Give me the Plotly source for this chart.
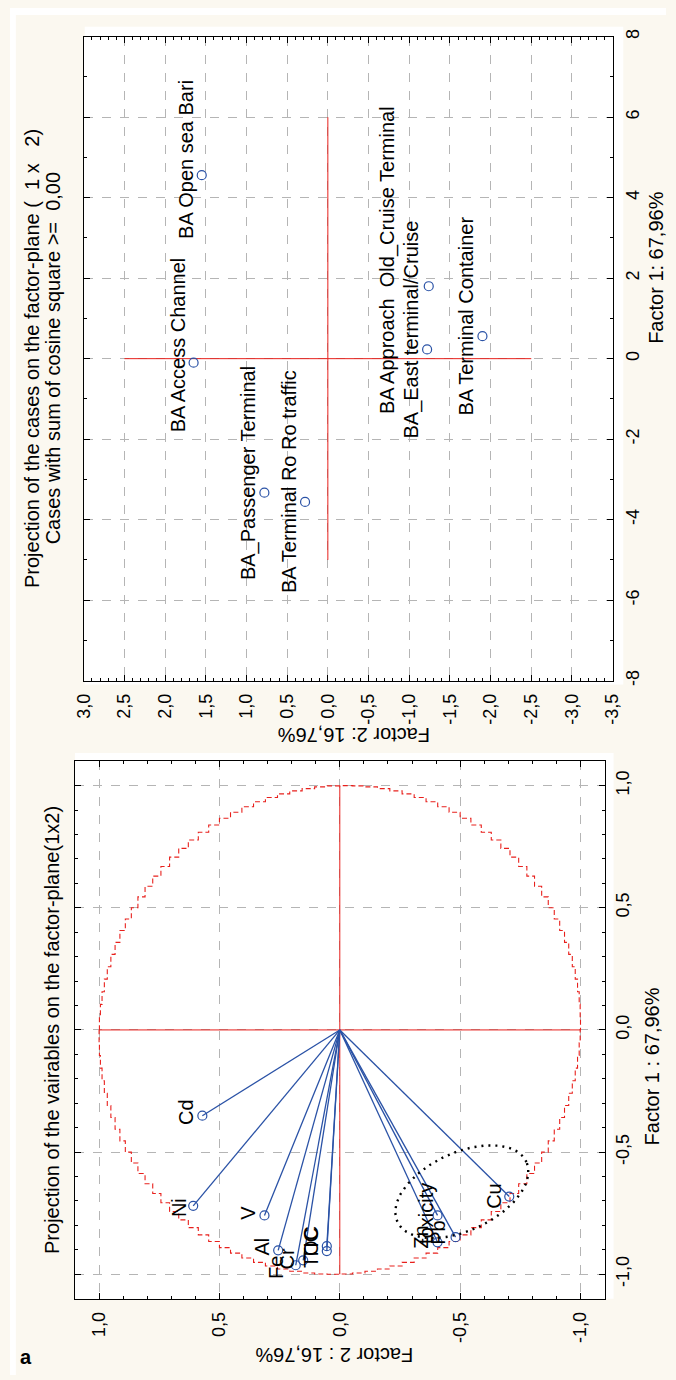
import numpy as np
import plotly.graph_objects as go

W, H = 676, 1380
FONT = "Liberation Sans, Arial, sans-serif"

# ---------------- data: cases (top panel) ----------------
case_names = ["BA Open sea Bari", "BA Access Channel", "BA_Passenger Terminal",
              "BA Terminal Ro Ro traffic", "BA Approach\u00a0 Old_Cruise Terminal",
              "BA_East terminal/Cruise", "BA Terminal Container"]
case_f1 = [4.56, -0.10, -3.33, -3.56, 1.80, 0.23, 0.56]
case_f2 = [1.55, 1.65, 0.78, 0.28, -1.24, -1.22, -1.90]
case_label_dx = [-16, -16, -16, -16, -42, -16, -16]
case_label_dy = [16, 18, 20, 20, 26, 20, 20]

# ---------------- data: variables (bottom panel) ----------------
var_names = ["Cd", "Ni", "V", "Al", "Fe", "Cr", "TIC", "TOC", "toxicity", "Zn", "Pb", "Cu"]
var_f1 = [-0.351, -0.720, -0.759, -0.902, -0.963, -0.943, -0.885, -0.905, -0.759, -0.869, -0.848, -0.682]
var_f2 = [0.571, 0.609, 0.313, 0.256, 0.183, 0.152, 0.054, 0.054, -0.406, -0.406, -0.481, -0.704]
var_label_dx = [-17, -14, -16, -16, -19, -16, -16, -16, -11, -16, -17, -16]
var_label_dy = [4, -2, 3, 4, -2, 1, 2, 4, 2, 5, 4, 1]

# ---------------- ticks ----------------
top_x_ticks = [3.0, 2.5, 2.0, 1.5, 1.0, 0.5, 0.0, -0.5, -1.0, -1.5, -2.0, -2.5, -3.0, -3.5]
top_x_text = ["3,0", "2,5", "2,0", "1,5", "1,0", "0,5", "0,0", "-0,5", "-1,0", "-1,5",
              "-2,0", "-2,5", "-3,0", "-3,5"]
top_y_ticks = [8, 6, 4, 2, 0, -2, -4, -6, -8]
top_y_text = ["8", "6", "4", "2", "0", "-2", "-4", "-6", "-8"]
bot_ticks = [1.0, 0.5, 0.0, -0.5, -1.0]
bot_text = ["1,0", "0,5", "0,0", "-0,5", "-1,0"]

# reference cross lines
top_h_span = [2.5, -2.5]    # Factor 2 extent of Factor1=0 line
top_v_span = [-5, 6]        # Factor 1 extent of Factor2=0 line
bot_h_span = [1.0, -1.0]
bot_v_span = [-1.0, 1.0]

# ellipse (highlight group) parameters
ell_center = (-0.507, -0.662)
ell_axes = (0.295, 0.16)
ell_dir = (-0.911, 0.412)

RED = "#e8201c"
BLUE = "#2a52a6"
GRID = "#b5b5b5"
CREAM = "#fbf8f0"

LBL = 20     # point label font size
TICK = 18
TITLE = 20
AXT = 20

fig = go.Figure()

# ---- top panel ----
fig.add_trace(go.Scatter(x=top_h_span, y=[0, 0], xaxis="x", yaxis="y", mode="lines",
                         line=dict(color=RED, width=1), hoverinfo="skip"))
fig.add_trace(go.Scatter(x=[0, 0], y=top_v_span, xaxis="x", yaxis="y", mode="lines",
                         line=dict(color=RED, width=1), hoverinfo="skip"))
fig.add_trace(go.Scatter(x=case_f2, y=case_f1, xaxis="x", yaxis="y", mode="markers",
                         marker=dict(symbol="circle-open", size=9, color=BLUE, line=dict(width=1.2)),
                         text=case_names))

# ---- bottom panel ----
th = np.linspace(0, 2 * np.pi, 121)
fig.add_trace(go.Scatter(x=np.cos(th), y=np.sin(th), xaxis="x2", yaxis="y2", mode="lines",
                         line=dict(color=RED, width=1.1, dash="5px,3px", shape="hv"), hoverinfo="skip"))
fig.add_trace(go.Scatter(x=bot_h_span, y=[0, 0], xaxis="x2", yaxis="y2", mode="lines",
                         line=dict(color=RED, width=1), hoverinfo="skip"))
fig.add_trace(go.Scatter(x=[0, 0], y=bot_v_span, xaxis="x2", yaxis="y2", mode="lines",
                         line=dict(color=RED, width=1), hoverinfo="skip"))
lx, ly = [], []
for a, b in zip(var_f2, var_f1):
    lx += [0, a, None]
    ly += [0, b, None]
fig.add_trace(go.Scatter(x=lx, y=ly, xaxis="x2", yaxis="y2", mode="lines",
                         line=dict(color=BLUE, width=1.3), hoverinfo="skip"))
fig.add_trace(go.Scatter(x=var_f2, y=var_f1, xaxis="x2", yaxis="y2", mode="markers",
                         marker=dict(symbol="circle-open", size=9, color=BLUE, line=dict(width=1.2)),
                         text=var_names))
t = np.linspace(0, 2 * np.pi, 200)
ux, uy = ell_dir
vx, vy = uy, -ux
ex = ell_center[0] + ell_axes[0] * np.cos(t) * ux + ell_axes[1] * np.sin(t) * vx
ey = ell_center[1] + ell_axes[0] * np.cos(t) * uy + ell_axes[1] * np.sin(t) * vy
fig.add_trace(go.Scatter(x=ex, y=ey, xaxis="x2", yaxis="y2", mode="lines",
                         line=dict(color="black", width=2.4, dash="2px,5px"), hoverinfo="skip"))

annotations = []
for n, a, b, dx, dy in zip(case_names, case_f2, case_f1, case_label_dx, case_label_dy):
    annotations.append(dict(x=a, y=b, xref="x", yref="y", text=n, showarrow=False,
                            textangle=-90, xshift=dx, yshift=dy,
                            font=dict(family=FONT, size=LBL, color="black")))
for n, a, b, dx, dy in zip(var_names, var_f2, var_f1, var_label_dx, var_label_dy):
    annotations.append(dict(x=a, y=b, xref="x2", yref="y2", text=n, showarrow=False,
                            textangle=-90, xshift=dx, yshift=dy,
                            font=dict(family=FONT, size=LBL, color="black")))


def pa(xpx, ypx, text, angle=-90, size=TITLE, bold=False):
    return dict(x=xpx / W, y=1 - ypx / H, xref="paper", yref="paper",
                text=("<b>%s</b>" % text) if bold else text,
                showarrow=False, textangle=angle, xanchor="center", yanchor="middle",
                font=dict(family=FONT, size=size, color="black"))


annotations += [
    pa(22, 354, "Projection of the cases on the factor-plane (\u00a0 1 x \u00a0 2)"),
    pa(44, 354, "Cases with sum of cosine square &gt;=\u00a0 0,00"),
    pa(665, 262, "Factor 1: 67,96%", size=AXT),
    pa(354, 734, "Factor 2: 16,76%", angle=180, size=AXT),
    pa(44, 1032, "Projection of the vairables on the factor-plane(1x2)"),
    pa(661, 1068, "Factor 1 : 67,96%", size=AXT),
    pa(334, 1360, "Factor 2 : 16,76%", angle=180, size=AXT),
    pa(16, 1362, "a", angle=0, size=20, bold=True),
]

shapes = [
    dict(type="rect", xref="paper", yref="paper", x0=77 / W, x1=632 / W, y0=1 - 683 / H, y1=1 - 19 / H,
         fillcolor="white", line=dict(width=0), layer="below"),
    dict(type="rect", xref="paper", yref="paper", x0=67 / W, x1=622 / W, y0=1 - 1303 / H, y1=1 - 752 / H,
         fillcolor="white", line=dict(width=0), layer="below"),
    dict(type="rect", xref="paper", yref="paper", x0=0, x1=6 / W, y0=0, y1=1,
         fillcolor="white", line=dict(width=0), layer="below"),
    dict(type="rect", xref="paper", yref="paper", x0=0, x1=1, y0=1 - 7 / H, y1=1,
         fillcolor="white", line=dict(width=0), layer="below"),
]

common = dict(showline=True, linecolor="black", linewidth=1, mirror="allticks", ticks="inside",
              ticklen=6, tickcolor="black", showgrid=True, gridcolor=GRID, griddash="dash",
              gridwidth=1, zeroline=False, tickangle=-90,
              tickfont=dict(family=FONT, size=TICK, color="black"))

fig.update_layout(
    width=W, height=H, margin=dict(l=0, r=0, t=0, b=0),
    paper_bgcolor=CREAM, plot_bgcolor="white", showlegend=False,
    xaxis=dict(domain=[76 / W, 621 / W], anchor="y", range=[3.0, -3.5], tickmode="array",
               tickvals=top_x_ticks, ticktext=top_x_text, ticklabelstandoff=5,
               minor=dict(ticks="inside", dtick=0.1, ticklen=3, tickcolor="black", showgrid=False), **common),
    yaxis=dict(domain=[1 - 679 / H, 1 - 29 / H], anchor="x", side="right", range=[-8, 8],
               tickmode="array", tickvals=top_y_ticks, ticktext=top_y_text, ticklabelstandoff=4,
               minor=dict(ticks="inside", dtick=1, ticklen=3, tickcolor="black", showgrid=False), **common),
    xaxis2=dict(domain=[67 / W, 612.7 / W], anchor="y2", range=[1.1, -1.1], tickmode="array",
                tickvals=bot_ticks, ticktext=bot_text, ticklabelstandoff=5,
                minor=dict(ticks="inside", dtick=0.1, ticklen=3, tickcolor="black", showgrid=False), **common),
    yaxis2=dict(domain=[1 - 1303 / H, 1 - 760.3 / H], anchor="x2", side="right", range=[-1.1, 1.1],
                tickmode="array", tickvals=bot_ticks, ticktext=bot_text, ticklabelstandoff=2,
                minor=dict(ticks="inside", dtick=0.1, ticklen=3, tickcolor="black", showgrid=False), **common),
    annotations=annotations, shapes=shapes,
)

fig.write_html("out.html")
